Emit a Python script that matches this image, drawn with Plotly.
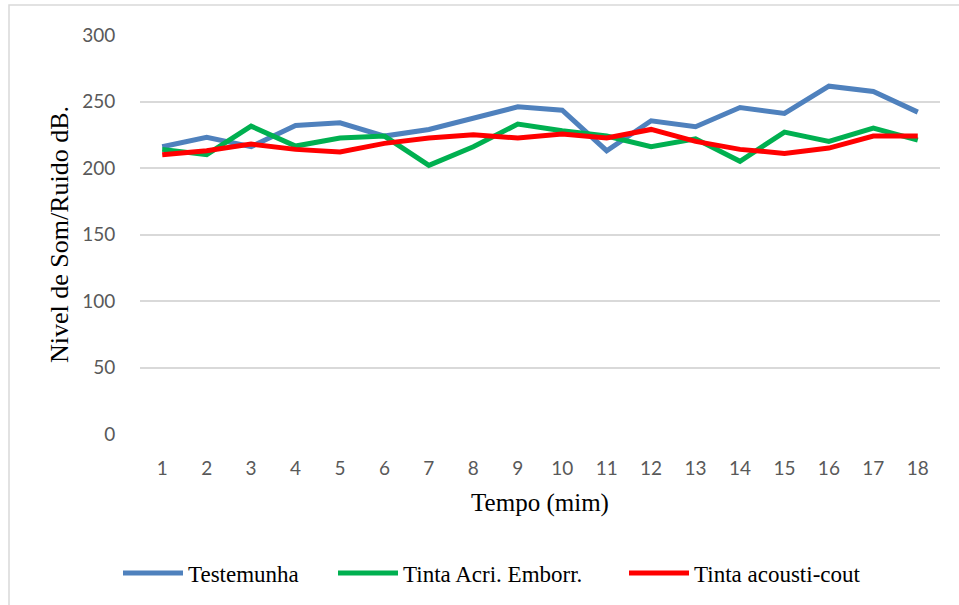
import plotly.graph_objects as go

tempo = list(range(1, 19))
testemunha = [216, 223, 216, 232, 234, 224, 229, 237.5, 246, 243.5, 213, 235.5, 231, 245.5, 241, 261.5, 257.5, 242]
tinta_acri = [214, 210, 231.5, 216.5, 222.5, 224, 202, 216, 233, 228, 224, 216, 222, 205, 227, 220, 230, 221]
tinta_acousti = [210, 213, 218, 214, 212, 218.5, 222.5, 225, 222.5, 225.5, 222.5, 229, 220, 214, 211, 215, 224, 224]

series_names = ["Testemunha", "Tinta Acri. Emborr.", "Tinta acousti-cout"]
colors = ["#4F81BD", "#00B050", "#FF0000"]
y_ticks = [0, 50, 100, 150, 200, 250, 300]

L, R, T, B = 140, 19, 35, 170
W, H = 959, 605
PW, PH = W - L - R, H - T - B

legend_ids = ["legend", "legend2", "legend3"]
legend_px = [118, 333, 624]

fig = go.Figure()
for name, vals, col, lid in zip(series_names, [testemunha, tinta_acri, tinta_acousti], colors, legend_ids):
    fig.add_trace(go.Scatter(x=tempo, y=vals, name=name, mode="lines",
                             line=dict(color=col, width=5), legend=lid))

tick_font = dict(family="Lato", size=19, color="#595959")
serif = "Liberation Serif"

leg_common = dict(orientation="h", yanchor="middle", y=(H - B - 573) / PH, xanchor="left",
                  font=dict(family=serif, size=23, color="#000000"),
                  itemwidth=60, bgcolor="rgba(0,0,0,0)")
legends = {}
for lid, px in zip(legend_ids, legend_px):
    legends[lid] = dict(leg_common, x=(px - L) / PW)

fig.update_layout(
    width=W, height=H,
    margin=dict(l=L, r=R, t=T, b=B),
    paper_bgcolor="white", plot_bgcolor="white",
    showlegend=True,
    **legends,
    xaxis=dict(tickmode="array", tickvals=tempo, ticktext=[str(t) for t in tempo],
               range=[0.5, 18.5], showgrid=False, zeroline=False, showline=False,
               ticks="outside", ticklen=17, tickcolor="rgba(0,0,0,0)", tickfont=tick_font,
               title=dict(text="Tempo (mim)", font=dict(family=serif, size=25, color="#000000"), standoff=15)),
    yaxis=dict(range=[0, 300], tickvals=y_ticks, showgrid=True, gridcolor="#D9D9D9", gridwidth=1.5,
               zeroline=False, showline=False, ticks="outside", ticklen=20, tickcolor="rgba(0,0,0,0)",
               tickfont=tick_font,
               title=dict(text="Nivel de Som/Ruido dB.", font=dict(family=serif, size=26, color="#000000"), standoff=6)),
    shapes=[dict(type="rect", xref="paper", yref="paper", x0=(9 - L) / PW, x1=1.2, y0=-0.6, y1=(H - B - 5) / PH,
                 line=dict(color="#D9D9D9", width=1.5), fillcolor="rgba(0,0,0,0)", layer="below")],
)

fig.write_html("out.html")
